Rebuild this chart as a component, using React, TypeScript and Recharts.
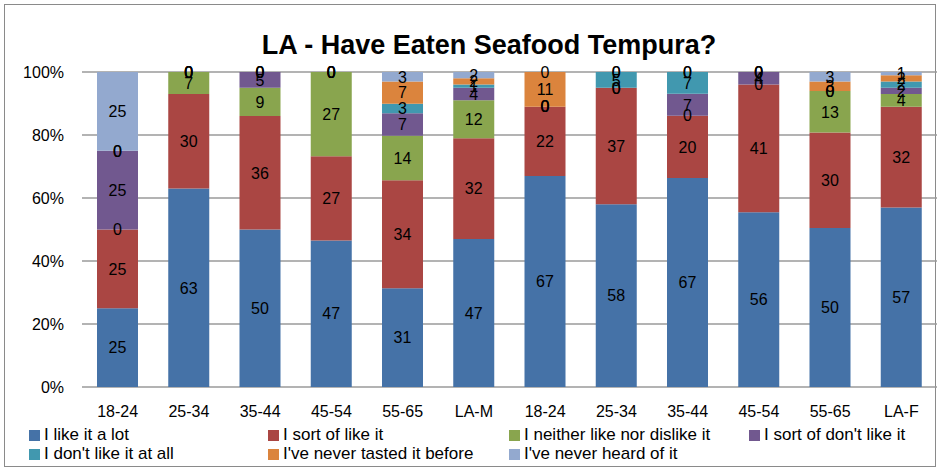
import { BarChart, Bar, XAxis, YAxis, CartesianGrid, LabelList } from "recharts";

const categories = ["18-24", "25-34", "35-44", "45-54", "55-65", "LA-M", "18-24", "25-34", "35-44", "45-54", "55-65", "LA-F"];
const likeALot = [25, 63, 50, 47, 31, 47, 67, 58, 67, 56, 50, 57];
const sortOfLike = [25, 30, 36, 27, 34, 32, 22, 37, 20, 41, 30, 32];
const neither = [0, 7, 9, 27, 14, 12, 0, 0, 0, 0, 13, 4];
const sortOfDont = [25, 0, 5, 0, 7, 4, 0, 0, 7, 4, 0, 2];
const dontAtAll = [0, 0, 0, 0, 3, 1, 0, 5, 7, 0, 0, 2];
const neverTasted = [0, 0, 0, 0, 7, 2, 11, 0, 0, 0, 3, 2];
const neverHeard = [25, 0, 0, 0, 3, 2, 0, 0, 0, 0, 3, 1];
const yTicks = [0, 0.2, 0.4, 0.6, 0.8, 1];

const series = [
  { key: "likeALot", name: "I like it a lot", color: "#4572A7", values: likeALot },
  { key: "sortOfLike", name: "I sort of like it", color: "#AA4643", values: sortOfLike },
  { key: "neither", name: "I neither like nor dislike it", color: "#89A54E", values: neither },
  { key: "sortOfDont", name: "I sort of don't like it", color: "#71588F", values: sortOfDont },
  { key: "dontAtAll", name: "I don't like it at all", color: "#4198AF", values: dontAtAll },
  { key: "neverTasted", name: "I've never tasted it before", color: "#DB843D", values: neverTasted },
  { key: "neverHeard", name: "I've never heard of it", color: "#93A9CF", values: neverHeard },
];

// recharts drops zero-height segments, which also drops their "0" label;
// a tiny stand-in keeps the segment (invisible) so excel's "0" still shows
const data = categories.map((name, i) => {
  const row: Record<string, string | number> = { name };
  series.forEach((s) => {
    const v = s.values[i];
    row[s.key] = v === 0 ? 1e-6 : v;
    row[s.key + "Label"] = v;
  });
  return row;
});

const font = "'Liberation Sans', Arial, sans-serif";
const legendCols = [29, 268, 509, 749];
const legendRows = [435, 454];

const renderLabel = (props: any) => {
  const { x, y, width, height, value } = props;
  if (value == null) return null;
  const cx = Number(x) + Number(width) / 2;
  const cy = Number(y) + Number(height) / 2;
  return (
    <text x={cx} y={cy} dy="0.36em" textAnchor="middle" fill="#000" fontSize={16} fontFamily={font}>
      {value}
    </text>
  );
};

const App = () => {
  return (
    <div style={{ position: "absolute", left: 0, top: 0, width: 938, height: 468, background: "#fff", fontFamily: font }}>
      <div style={{ position: "absolute", left: 4, top: 4, width: 930, height: 461, border: "1px solid #8a8a8a" }} />
      <div
        style={{
          position: "absolute",
          left: 0,
          top: 29,
          width: 978,
          textAlign: "center",
          fontSize: 27,
          fontWeight: "bold",
          lineHeight: "32px",
        }}
      >
        LA - Have Eaten Seafood Tempura?
      </div>
      <div style={{ position: "absolute", left: 0, top: 0 }}>
        <BarChart
          width={938}
          height={468}
          data={data}
          stackOffset="expand"
          margin={{ top: 72, right: 1, left: 0, bottom: 51 }}
          barSize={41}
        >
          <CartesianGrid vertical={false} stroke="#9a9a9a" strokeWidth={1.5} />
          <XAxis
            dataKey="name"
            axisLine={false}
            tickLine={false}
            tickMargin={13}
            height={30}
            interval={0}
            tick={{ fontSize: 16, fill: "#000", fontFamily: font }}
          />
          <YAxis
            width={82}
            domain={[0, 1]}
            ticks={yTicks}
            tickFormatter={(v: number) => `${Math.round(v * 100)}%`}
            axisLine={false}
            tickLine={false}
            tickMargin={12}
            tick={{ fontSize: 16, fill: "#000", fontFamily: font }}
          />
          {series.map((s) => (
            <Bar key={s.key} dataKey={s.key} name={s.name} stackId="a" fill={s.color} isAnimationActive={false}>
              <LabelList dataKey={s.key + "Label"} position="center" content={renderLabel} />
            </Bar>
          ))}
        </BarChart>
      </div>
      {series.map((s, i) => (
        <div
          key={s.key}
          style={{
            position: "absolute",
            left: legendCols[i % 4],
            top: legendRows[Math.floor(i / 4)] - 10,
            height: 20,
            display: "flex",
            alignItems: "center",
            fontSize: 17,
            whiteSpace: "nowrap",
          }}
        >
          <span style={{ display: "inline-block", width: 11, height: 11, background: s.color, marginRight: 4 }} />
          {s.name}
        </div>
      ))}
    </div>
  );
};

export default App;
